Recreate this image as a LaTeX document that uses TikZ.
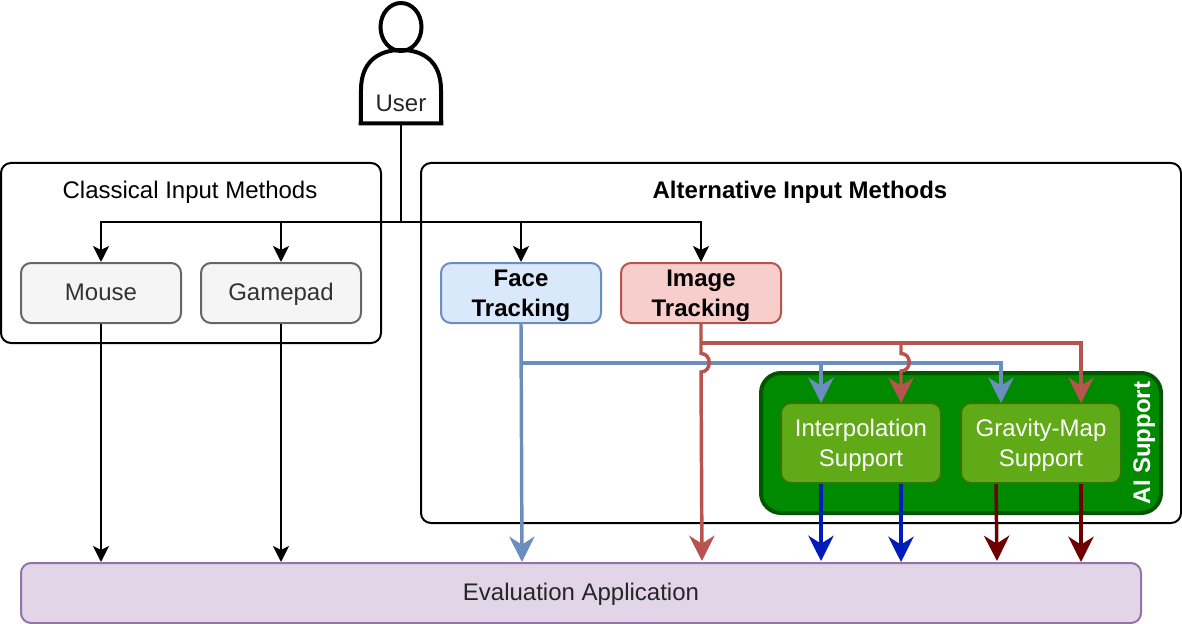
\documentclass[tikz,border=0pt]{standalone}
\usepackage{fontspec}
\setmainfont{Liberation Sans}
\usetikzlibrary{arrows.meta}

\definecolor{greyfill}{HTML}{F5F5F5}
\definecolor{greyline}{HTML}{666666}
\definecolor{greytext}{HTML}{333333}
\definecolor{facefill}{HTML}{DAE8FC}
\definecolor{faceline}{HTML}{6C8EBF}
\definecolor{imagefill}{HTML}{F8CECC}
\definecolor{imageline}{HTML}{B85450}
\definecolor{aifill}{HTML}{008A00}
\definecolor{ailine}{HTML}{005700}
\definecolor{supportfill}{HTML}{60A917}
\definecolor{supportline}{HTML}{2D7600}
\definecolor{evalfill}{HTML}{E1D5E7}
\definecolor{evalline}{HTML}{9673A6}
\definecolor{interpout}{HTML}{001DBC}
\definecolor{gravityout}{HTML}{6F0000}

\tikzset{
	every node/.style={font=\fontsize{18pt}{22.5pt}\selectfont, align=center, inner sep=0pt},
	oneline/.style={text height=14.5pt, text depth=4pt},
	twoline/.style={text height=38.5pt, text depth=4pt},
	boldtext/.style={font=\fontsize{18pt}{22.5pt}\selectfont\bfseries},
	group/.style={draw=black, line width=1.5pt, rounded corners=7.5pt},
	inputbox/.style={line width=1.5pt, rounded corners=7.5pt, minimum width=120pt, minimum height=45pt},
	supportbox/.style={twoline, draw=supportline, fill=supportfill, text=white, line width=1.5pt, rounded corners=7.5pt, minimum width=120pt, minimum height=60pt},
	thinconn/.style={draw=black, line width=1.5pt, -{Stealth[length=12pt,width=12pt,inset=3pt]}},
	thickconn/.style={line width=2.6pt, -{Stealth[length=19pt,width=19pt,inset=6pt]}}
}

\begin{document}
\begin{tikzpicture}[x=0.75pt, y=-0.75pt]
	\useasboundingbox (0,0) rectangle (1182,624);

	% Groups
	\node[group, minimum width=285pt, minimum height=135pt] (classical) at (191,253) {};
	\node[group, minimum width=570pt, minimum height=270pt] (alternative) at (801,343) {};
	\node[oneline] (classicaltitle) at (190,192) {Classical Input Methods};
	\node[oneline, boldtext] (alternativetitle) at (800,192) {Alternative Input Methods};

	% AI support
	\node[draw=ailine, fill=aifill, line width=3pt, rounded corners=15pt, minimum width=300pt, minimum height=105pt] (ai) at (961,443) {};
	\node[oneline, rotate=90, text=white, boldtext] (aititle) at (1143,443) {AI Support};
	\node[supportbox] (interp) at (861,443) {Interpolation\\Support};
	\node[supportbox] (gravity) at (1041,443) {Gravity-Map\\Support};

	% Input boxes
	\node[inputbox, oneline, draw=greyline, fill=greyfill, text=greytext] (mouse) at (101,293) {Mouse};
	\node[inputbox, oneline, draw=greyline, fill=greyfill, text=greytext] (gamepad) at (281,293) {Gamepad};
	\node[inputbox, twoline, draw=faceline, fill=facefill, boldtext] (face) at (521,293) {Face\\Tracking};
	\node[inputbox, twoline, draw=imageline, fill=imagefill, boldtext] (image) at (701,293) {Image\\Tracking};

	% Evaluation
	\node[oneline, draw=evalline, fill=evalfill, line width=1.5pt, rounded corners=7.5pt, minimum width=840pt, minimum height=45pt, text=black!85] (eval) at (581,593) {Evaluation Application};

	% User
	\node[minimum width=60pt, minimum height=55pt] (user) at (401,86.5) {};
	\node[oneline, text=black!85] (usertext) at (401,105) {User};
	\draw[line width=3pt] (401,27) ellipse (20.5 and 24);
	\draw[line width=3pt] (user.south west) -- (361,90) .. controls (361,62) and (378,50) .. (401,50) .. controls (424,50) and (441,62) .. (441,90) -- (user.south east) -- cycle;

	% Junction and end points
	\coordinate (bus) at (401,222);
	\coordinate (evalmouse) at (101,562);
	\coordinate (evalgamepad) at (281,562);
	\coordinate (evalface) at (522,562);
	\coordinate (evalimage) at (702,561);
	\coordinate (faceturn) at (521,363);
	\coordinate (imageturn) at (701,343);
	\coordinate (interpin) at (821,403);
	\coordinate (gravityin) at (1001,403);
	\coordinate (interpinb) at (901,403);
	\coordinate (gravityinb) at (1081,403);

	% User connectors
	\draw[line width=1.5pt] (user.south) -- (bus);
	\draw[thinconn] (bus) -| (mouse.north);
	\draw[thinconn] (bus) -| (gamepad.north);
	\draw[thinconn] (bus) -| (face.north);
	\draw[thinconn] (bus) -| (image.north);

	% Classical inputs to evaluation
	\draw[thinconn] (mouse.south) -- (evalmouse);
	\draw[thinconn] (gamepad.south) -- (evalgamepad);

	% Face tracking
	\draw[thickconn, draw=faceline] (face.south) -- (evalface);
	\draw[thickconn, draw=faceline] (faceturn) -| (interpin);
	\draw[thickconn, draw=faceline] (faceturn) -| (gravityin);

	% Image tracking
	\draw[thickconn, draw=imageline] (image.south) -- (701,353.5) .. controls (712,353.5) and (712,372) .. (701,372) -- (evalimage);
	\draw[thickconn, draw=imageline] (imageturn) -- (901,343) -- (901,353.5) .. controls (912,353.5) and (912,371) .. (901,371) -- (interpinb);
	\draw[thickconn, draw=imageline] (imageturn) -| (gravityinb);

	% Support outputs
	\draw[thickconn, draw=interpout] (821,484) -- (821,561);
	\draw[thickconn, draw=interpout] (901,484) -- (901,562);
	\draw[thickconn, draw=gravityout] (996,484) -- (997,561);
	\draw[thickconn, draw=gravityout] (1081,484) -- (1081,562);
\end{tikzpicture}
\end{document}
